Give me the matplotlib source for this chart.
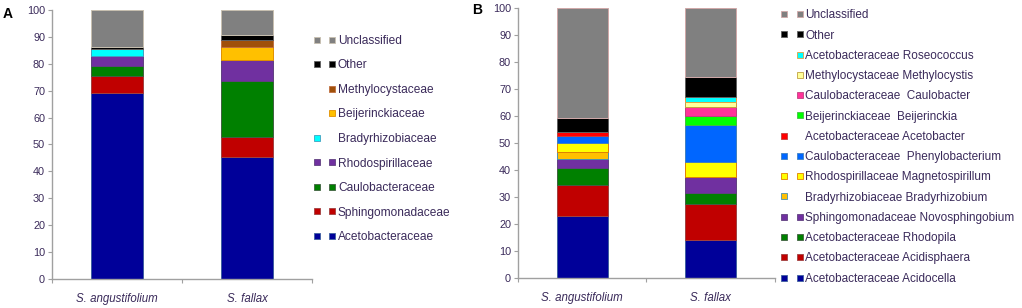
import matplotlib.pyplot as plt
from matplotlib.lines import Line2D
from matplotlib.legend_handler import HandlerTuple

plt.rcParams['font.family'] = ['Liberation Sans', 'DejaVu Sans']

samples = ['S. angustifolium', 'S. fallax']
txt_col = '#3a2a5a'

# panel A - families (bottom to top)
a_taxa = ['Acetobacteraceae', 'Sphingomonadaceae', 'Caulobacteraceae', 'Rhodospirillaceae',
          'Bradyrhizobiaceae', 'Beijerinckiaceae', 'Methylocystaceae', 'Other', 'Unclassified']
a_angust = [69.3, 6.3, 3.7, 3.7, 2.6, 0, 0, 0.5, 13.9]
a_fallax = [45.2, 7.5, 20.9, 7.7, 0, 5.1, 2.4, 1.9, 9.3]
a_colors = ['#000099', '#c00000', '#008000', '#7030a0', '#00ffff', '#ffc000', '#a0500a', '#000000', '#808080']
a_edges = ['#4060a0', '#a04040', '#406040', '#604080', '#40a0c0', '#e09000', '#c07040', '#606060', '#c8c0b0']

# panel B - genera (bottom to top)
b_taxa = ['Acetobacteraceae Acidocella', 'Acetobacteraceae Acidisphaera', 'Acetobacteraceae Rhodopila',
          'Sphingomonadaceae Novosphingobium', 'Bradyrhizobiaceae Bradyrhizobium',
          'Rhodospirillaceae Magnetospirillum', 'Caulobacteraceae  Phenylobacterium',
          'Acetobacteraceae Acetobacter', 'Beijerinckiaceae  Beijerinckia', 'Caulobacteraceae  Caulobacter',
          'Methylocystaceae Methylocystis', 'Acetobacteraceae Roseococcus', 'Other', 'Unclassified']
b_angust = [23.0, 11.5, 6.4, 3.2, 2.7, 3.1, 2.8, 1.4, 0, 0, 0, 0, 5.3, 40.6]
b_fallax = [14.1, 13.2, 4.1, 6.2, 0, 5.5, 13.7, 0, 3.4, 3.3, 1.9, 1.8, 7.4, 25.4]
b_colors = ['#000099', '#c00000', '#008000', '#7030a0', '#ffc000', '#ffff00', '#0066ff', '#ff0000',
            '#00ff00', '#ff3399', '#ffff99', '#00ffff', '#000000', '#808080']
b_edges = ['#4060a0', '#a04040', '#406040', '#604080', '#4a90b0', '#e08000', '#4080c0', '#c04040',
           '#40c040', '#c04080', '#c0a040', '#e0a040', '#606060', '#d0a8a8']


def stacked(ax, taxa, v1, v2, colors, edges):
    xs = [0.5, 1.5]
    bottom = [0, 0]
    handles = []
    for i, name in enumerate(taxa):
        vals = [v1[i], v2[i]]
        ax.bar(xs, vals, 0.4, bottom=bottom, color=colors[i], edgecolor=edges[i], linewidth=0.7)
        bottom = [bottom[0] + vals[0], bottom[1] + vals[1]]
        pair = []
        for v in vals:
            pair.append(Line2D([], [], ls='none', marker='s', markersize=4.2,
                               markerfacecolor=colors[i], markeredgecolor=edges[i],
                               markeredgewidth=0.6, alpha=1 if v > 0 else 0))
        handles.append(tuple(pair))
    ax.set_xlim(0, 2)
    ax.set_ylim(0, 100)
    ax.set_yticks(range(0, 101, 10))
    ax.set_xticks([0, 1, 2])
    ax.set_xticklabels([])
    ax.set_xticks(xs, minor=True)
    ax.set_xticklabels(samples, minor=True, style='italic', fontsize=8.3, color=txt_col)
    ax.tick_params(axis='x', which='minor', length=0, pad=10)
    ax.tick_params(axis='x', which='major', length=3, color='#a0a0a0', direction='out')
    ax.tick_params(axis='y', length=3, color='#a0a0a0', labelsize=7.8, labelcolor=txt_col, pad=2)
    for s in ['top', 'right']:
        ax.spines[s].set_visible(False)
    for s in ['left', 'bottom']:
        ax.spines[s].set_color('#a0a0a0')
        ax.spines[s].set_linewidth(1.0)
    return handles[::-1]


fig = plt.figure(figsize=(10.22, 3.08), dpi=100)
axA = fig.add_axes([0.0509, 0.0942, 0.2544, 0.8733])
axB = fig.add_axes([0.5068, 0.0974, 0.2515, 0.8756])

hA = stacked(axA, a_taxa, a_angust, a_fallax, a_colors, a_edges)
hB = stacked(axB, b_taxa, b_angust, b_fallax, b_colors, b_edges)

fig.legend(hA, a_taxa[::-1], loc='upper left', bbox_to_anchor=(0.3058, 0.887), frameon=False,
           fontsize=8.6, borderpad=0, borderaxespad=0, handlelength=2.0, handletextpad=0.13,
           labelspacing=1.05, handler_map={tuple: HandlerTuple(ndivide=None, pad=0.51)},
           labelcolor=txt_col)
fig.legend(hB, b_taxa[::-1], loc='upper left', bbox_to_anchor=(0.7622, 0.970), frameon=False,
           fontsize=8.5, borderpad=0, borderaxespad=0, handlelength=2.2, handletextpad=0.03,
           labelspacing=0.70, handler_map={tuple: HandlerTuple(ndivide=None, pad=0.51)},
           labelcolor=txt_col)

fig.text(0.003, 0.955, 'A', fontsize=10, fontweight='bold', va='center')
fig.text(0.462, 0.966, 'B', fontsize=10, fontweight='bold', va='center')

fig.savefig('out.png', dpi=100)
